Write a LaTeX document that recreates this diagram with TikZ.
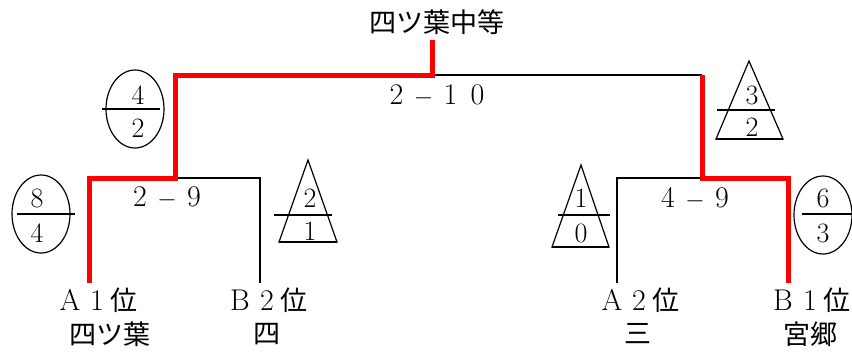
\documentclass[tikz,border=0pt]{standalone}
\usepackage{fontspec}
\newfontfamily\jp{Noto Sans CJK JP}
\newcommand{\fw}[1]{\makebox[27pt]{\fontsize{30}{32}\selectfont #1}}
\newcommand{\fj}[1]{\makebox[27pt]{\jp #1}}
\tikzset{
  win/.style={draw=red, line width=5pt},
  lose/.style={draw=black, line width=2pt},
  outline/.style={line width=1.2pt},
  bar/.style={line width=2pt},
  lbl/.style={inner sep=0pt, font=\fontsize{27}{30}\selectfont},
  num/.style={inner sep=0pt, font=\fontsize{28}{30}\selectfont},
}
\begin{document}
\begin{tikzpicture}[x=1pt, y=-1pt]
  \useasboundingbox (0,0) rectangle (852,351);
  % bracket points
  \coordinate (top) at (432,40);
  \coordinate (tl) at (175,75);
  \coordinate (tm) at (432,75);
  \coordinate (tr) at (702,75);
  \coordinate (la) at (89,178);
  \coordinate (lm) at (175,178);
  \coordinate (lb) at (260,178);
  \coordinate (la1) at (89,283);
  \coordinate (lb1) at (260,283);
  \coordinate (ra) at (617,178);
  \coordinate (rm) at (702,178);
  \coordinate (rb) at (788,178);
  \coordinate (ra1) at (617,283);
  \coordinate (rb1) at (788,283);

  \draw[lose] (tm) -- (tr) ;
  \draw[lose] (lm) -- (lb) -- (lb1) ;
  \draw[lose] (ra1) -- (ra) -- (rm) ;
  \draw[win] (top) -- (tm) -- (tl) -- (lm) -- (la) -- (la1) ;
  \draw[win] (tr) -- (rm) -- (rb) -- (rb1) ;

  % labels
  \node[lbl] (final) at (437,22) {\jp 四ツ葉中等};
  \node[lbl] (s0) at (437,96) {\fw{2}\fw{$-$}\fw{1}\fw{0}};
  \node[lbl] (s1) at (167,198) {\fw{2}\fw{$-$}\fw{9}};
  \node[lbl] (s2) at (695,198) {\fw{4}\fw{$-$}\fw{9}};
  \node[lbl] (t1) at (97,300) {\fw{A}\fw{1}\fj{位}};
  \node[lbl] (t1n) at (110,334) {\jp 四ツ葉};
  \node[lbl] (t2) at (267,300) {\fw{B}\fw{2}\fj{位}};
  \node[lbl] (t2n) at (267,334) {\jp 四};
  \node[lbl] (t3) at (639,300) {\fw{A}\fw{2}\fj{位}};
  \node[lbl] (t3n) at (638,334) {\jp 三};
  \node[lbl] (t4) at (810,300) {\fw{B}\fw{1}\fj{位}};
  \node[lbl] (t4n) at (810,334) {\jp 宮郷};

  % circles (wins)
  \draw[outline] (135,109) ellipse [x radius=29, y radius=39];
  \draw[bar] (102,109) -- (160,109);
  \node[num] (c1a) at (138,95) {4};
  \node[num] (c1b) at (138,128) {2};

  \draw[outline] (41,214) ellipse [x radius=29, y radius=39];
  \draw[bar] (17,214) -- (75,214);
  \node[num] (c2a) at (37,198) {8};
  \node[num] (c2b) at (37,233) {4};

  \draw[outline] (823,215) ellipse [x radius=29, y radius=39];
  \draw[bar] (802,214) -- (852,214);
  \node[num] (c3a) at (823,198) {6};
  \node[num] (c3b) at (823,233) {3};

  % triangles
  \draw[outline] (749,61) -- (783,139) -- (716,139) -- cycle;
  \draw[bar] (716,139) -- (783,139);
  \draw[bar] (717,110) -- (775,110);
  \node[num] (d1a) at (752,95) {3};
  \node[num] (d1b) at (752,127) {2};

  \draw[outline] (308,160) -- (337,242) -- (279,242) -- cycle;
  \draw[bar] (279,242) -- (337,242);
  \draw[bar] (274,215) -- (332,215);
  \node[num] (d2a) at (310,198) {2};
  \node[num] (d2b) at (310,231) {1};

  \draw[outline] (581,165) -- (609,247) -- (552,247) -- cycle;
  \draw[bar] (552,247) -- (609,247);
  \draw[bar] (558,215) -- (610,215);
  \node[num] (d3a) at (581,198) {1};
  \node[num] (d3b) at (581,233) {0};
\end{tikzpicture}
\end{document}
